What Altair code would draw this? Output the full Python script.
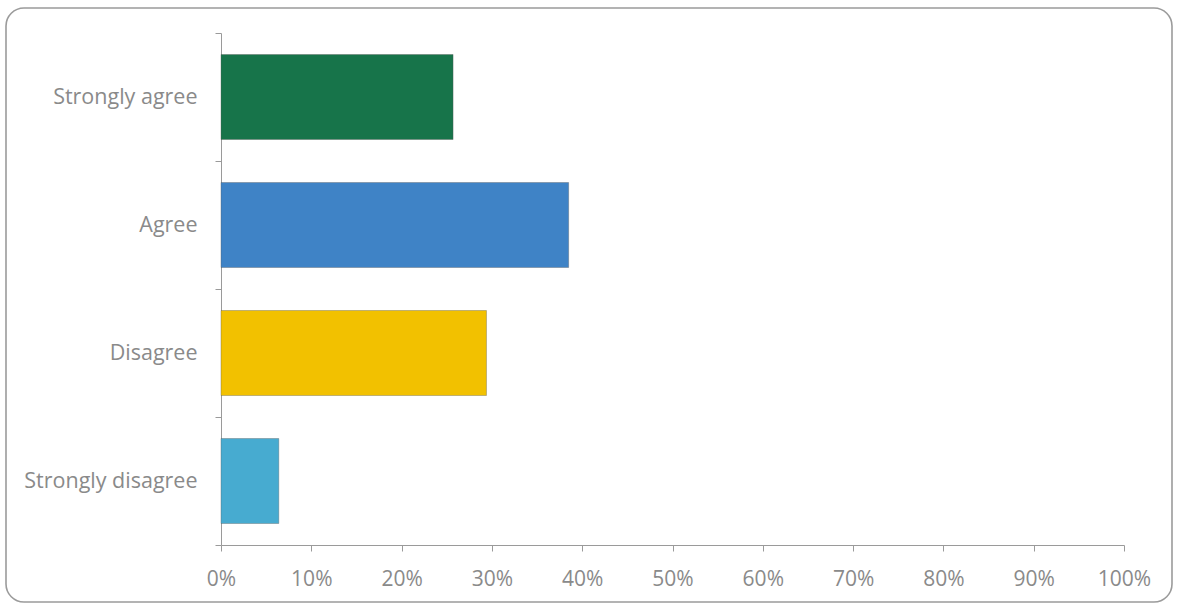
import altair as alt
import pandas as pd

categories = ["Strongly agree", "Agree", "Disagree", "Strongly disagree"]
values = [0.257, 0.385, 0.294, 0.064]
colors = ["#17744a", "#3f83c6", "#f2c100", "#47abd0"]
x_ticks = [i / 10 for i in range(11)]

df = pd.DataFrame({"category": categories, "value": values, "color": colors})

FONT = "Open Sans"
GRAY = "#8a8a8a"

bars = alt.Chart(df).mark_bar(size=85, stroke="#555555", strokeOpacity=0.35, strokeWidth=1).encode(
    y=alt.Y(
        "category:N",
        sort=categories,
        scale=alt.Scale(paddingInner=0, paddingOuter=0),
        axis=alt.Axis(
            title=None,
            tickBand="extent",
            tickSize=6,
            labelPadding=18,
            labelFont=FONT,
            labelFontSize=21.5,
            labelColor=GRAY,
            domainColor="#9a9a9a",
            tickColor="#9a9a9a",
            grid=False,
            labelLimit=300,
        ),
    ),
    x=alt.X(
        "value:Q",
        scale=alt.Scale(domain=[0, 1], nice=False),
        axis=alt.Axis(
            title=None,
            values=x_ticks,
            format=".0%",
            tickSize=6,
            labelPadding=17,
            labelFont=FONT,
            labelFontSize=21,
            labelColor=GRAY,
            domainColor="#9a9a9a",
            tickColor="#9a9a9a",
            grid=False,
            labelFlush=False,
        ),
    ),
    color=alt.Color("color:N", scale=None, legend=None),
)

frame = alt.Chart(pd.DataFrame({"k": [0]})).mark_rect(
    fill=None, stroke="#9b9b9b", strokeWidth=1.6, cornerRadius=18, clip=False
).encode(
    x=alt.value(-215), x2=alt.value(951), y=alt.value(-25), y2=alt.value(569)
)

chart = alt.layer(frame, bars).properties(
    width=903,
    height=512,
    autosize=alt.AutoSizeParams(type="none"),
    padding={"left": 221, "top": 33, "right": 56, "bottom": 63},
    background="white",
).configure_view(stroke=None)

chart.save("out.html", embed_options={"renderer": "svg", "actions": False})
